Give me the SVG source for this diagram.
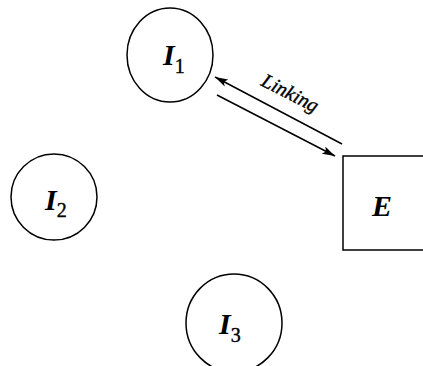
<svg xmlns="http://www.w3.org/2000/svg" width="423" height="366" viewBox="0 0 423 366">
<style>
.n{fill:none;stroke:#000;stroke-width:1.5}
.l{font-family:"Liberation Serif",serif;font-style:italic;font-weight:bold;font-size:30px;fill:#000}
.s{font-family:"Liberation Serif",serif;font-style:normal;font-size:20px;fill:#000;stroke:#000;stroke-width:0.4}
.c{stroke:#000;stroke-width:1.5;fill:none;marker-end:url(#ah)}
.t{font-family:"Liberation Serif",serif;font-style:italic;font-size:20px;fill:#000;stroke:#000;stroke-width:0.4}
</style>
<defs>
<marker id="ah" viewBox="0 0 13 8" refX="13" refY="4" markerWidth="13" markerHeight="8" markerUnits="userSpaceOnUse" orient="auto">
<path d="M0,0 L13,4 L0,8 L3,4 Z" fill="#000"/>
</marker>
</defs>
<rect width="423" height="366" fill="#fff"/>
<g id="I1">
<ellipse class="n" cx="170" cy="55" rx="43" ry="47"/>
<text x="163" y="65"><tspan class="l">I</tspan><tspan class="s" dy="8">1</tspan></text>
</g>
<g id="I2">
<ellipse class="n" cx="54" cy="197" rx="43" ry="43"/>
<text x="45" y="210"><tspan class="l">I</tspan><tspan class="s" dy="7">2</tspan></text>
</g>
<g id="I3">
<ellipse class="n" cx="234" cy="323" rx="48" ry="49"/>
<text x="219" y="334"><tspan class="l">I</tspan><tspan class="s" dy="8">3</tspan></text>
</g>
<g id="E">
<path class="n" d="M424,156 L343,156 L343,250 L424,250"/>
<text class="l" x="382" y="216" text-anchor="middle">E</text>
</g>
<g id="connectors">
<line class="c" x1="342" y1="144" x2="215" y2="77"/>
<line class="c" x1="217" y1="95" x2="335" y2="156"/>
<text class="t" x="260" y="85" transform="rotate(27 260 85)">Linking</text>
</g>
</svg>
